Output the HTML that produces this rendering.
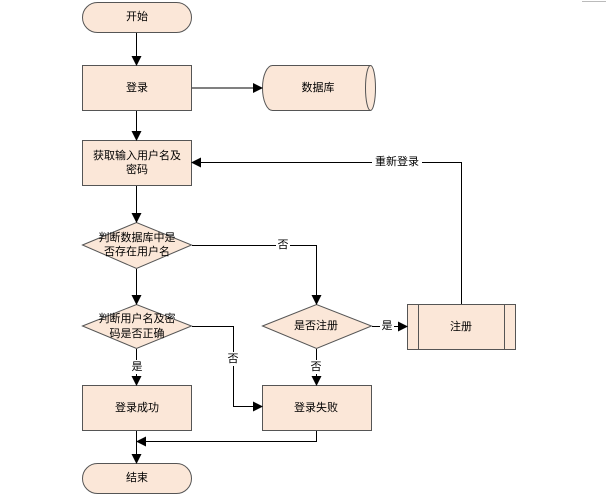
<!DOCTYPE html>
<html><head><meta charset="utf-8"><style>
html,body{margin:0;padding:0;background:#fff;width:615px;height:497px;overflow:hidden}
svg text{font-family:"Liberation Sans","Noto Sans CJK SC",sans-serif;font-size:11px;fill:#000;text-anchor:middle;dominant-baseline:central}
</style></head><body>
<svg width="615" height="497" viewBox="0 0 615 497" xmlns="http://www.w3.org/2000/svg">
<defs><marker id="a" markerWidth="10" markerHeight="10" refX="9" refY="5" orient="auto" markerUnits="userSpaceOnUse"><path d="M0,0 L10,5 L0,10 z" fill="#000"/></marker></defs>
<line x1="582" y1="1.5" x2="606" y2="1.5" stroke="#bbb" stroke-width="1"/>
<g fill="#fbe7d8" stroke="#555" stroke-width="1">
<rect x="82.5" y="2.5" width="109" height="30" rx="15"/>
<rect x="82.5" y="65.5" width="109" height="45"/>
<path d="M272.5,65.5 H370.5 A5,22.5 0 0 1 370.5,110.5 H272.5 A10,22.5 0 0 1 272.5,65.5 z"/>
<path d="M370.5,65.5 A5,22.5 0 0 0 370.5,110.5" fill="none"/>
<rect x="82.5" y="140.5" width="109" height="45"/>
<polygon points="82.5,245 136.5,222.5 191.5,245 136.5,268.5"/>
<polygon points="82.5,326 136.5,304.5 191.5,326 136.5,348.5"/>
<rect x="82.5" y="385.5" width="109" height="45"/>
<rect x="82.5" y="463.5" width="109" height="30" rx="15"/>
<polygon points="262.5,326 316.5,304.5 371.5,326 316.5,348.5"/>
<rect x="262.5" y="385.5" width="109" height="45"/>
<rect x="407.5" y="304.5" width="108" height="45"/>
<line x1="418.5" y1="304.5" x2="418.5" y2="349.5"/><line x1="504.5" y1="304.5" x2="504.5" y2="349.5"/>
</g>
<g stroke="#000" stroke-width="1" fill="none">
<line x1="136.5" y1="33" x2="136.5" y2="65" marker-end="url(#a)"/>
<line x1="192" y1="88" x2="262" y2="88" marker-end="url(#a)"/>
<line x1="136.5" y1="111" x2="136.5" y2="140" marker-end="url(#a)"/>
<line x1="136.5" y1="186" x2="136.5" y2="222" marker-end="url(#a)"/>
<line x1="136.5" y1="269" x2="136.5" y2="304" marker-end="url(#a)"/>
<line x1="136.5" y1="349" x2="136.5" y2="385" marker-end="url(#a)"/>
<line x1="136.5" y1="431" x2="136.5" y2="463" marker-end="url(#a)"/>
<polyline points="192,245.5 316.5,245.5 316.5,304" marker-end="url(#a)"/>
<polyline points="192,326.5 233.5,326.5 233.5,406.5 262,406.5" marker-end="url(#a)"/>
<line x1="316.5" y1="349" x2="316.5" y2="385" marker-end="url(#a)"/>
<polyline points="316.5,431 316.5,441.5 137,441.5" marker-end="url(#a)"/>
<line x1="372" y1="326.5" x2="407" y2="326.5" marker-end="url(#a)"/>
<polyline points="461.5,304 461.5,162.5 192,162.5" marker-end="url(#a)"/>
</g>
<g fill="#fff">
<rect x="276" y="238" width="14" height="14"/><rect x="226" y="352" width="14" height="14"/>
<rect x="309" y="360" width="14" height="14"/><rect x="129" y="360" width="14" height="14"/>
<rect x="380" y="319" width="14" height="14"/><rect x="372" y="155" width="50" height="14"/>
</g>
<text x="137" y="17">开始</text>
<text x="137" y="88">登录</text>
<text x="318" y="88">数据库</text>
<text x="137" y="156">获取输入用户名及</text>
<text x="137" y="170">密码</text>
<text x="137" y="238">判断数据库中是</text>
<text x="137" y="252">否存在用户名</text>
<text x="137" y="319">判断用户名及密</text>
<text x="137" y="334">码是否正确</text>
<text x="137" y="408">登录成功</text>
<text x="137" y="478">结束</text>
<text x="316" y="326">是否注册</text>
<text x="316" y="408">登录失败</text>
<text x="461" y="327">注册</text>
<text x="283" y="245">否</text><text x="233" y="359">否</text>
<text x="316" y="367">否</text><text x="137" y="367">是</text>
<text x="387" y="326">是</text><text x="397" y="162">重新登录</text>
</svg>
</body></html>
